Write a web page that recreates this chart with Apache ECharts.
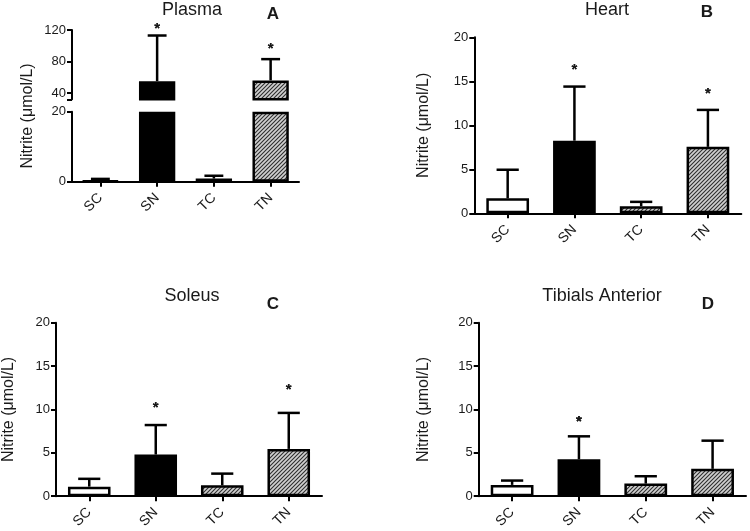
<!DOCTYPE html>
<html><head><meta charset="utf-8">
<script src="https://cdn.jsdelivr.net/npm/echarts@6/dist/echarts.min.js"></script>
<style>html,body{margin:0;padding:0;background:#fff}#c{width:750px;height:531px}</style>
</head><body><div id="c"></div>
<script>
// ---- data ----
const categories = ['SC', 'SN', 'TC', 'TN'];
const plasmaMean = [0.2, 55, 0.9, 56];
const plasmaErr  = [0.6, 58, 0.8, 27];
const plasmaStar = [null, 124, null, 99];
const heartMean  = [1.7, 8.25, 0.8, 7.55];
const heartErr   = [3.25, 6.15, 0.5, 4.2];
const heartStar  = [null, 16.5, null, 13.75];
const soleusMean = [1.1, 4.8, 1.25, 5.45];
const soleusErr  = [0.9, 3.4, 1.35, 4.15];
const soleusStar = [null, 10.45, null, 12.5];
const tibialMean = [1.3, 4.25, 1.45, 3.15];
const tibialErr  = [0.5, 2.65, 0.85, 3.25];
const tibialStar = [null, 8.75, null, null];
const plasmaTopTicks = [40, 80, 120];
const plasmaBottomTicks = [0, 20];
const muscleTicks = [0, 5, 10, 15, 20];
const yName = 'Nitrite (μmol/L)';

// ---- styles ----
const FONT = '"Liberation Sans", Arial, sans-serif';
const TXT = '#1a1a1a';
function hatch() {
  const c = document.createElement('canvas'); c.width = 4; c.height = 4;
  const g = c.getContext('2d');
  g.fillStyle = '#d0d0d0'; g.fillRect(0, 0, 4, 4);
  g.strokeStyle = '#2e2e2e'; g.lineWidth = 1.1;
  g.beginPath();
  g.moveTo(-1, 5); g.lineTo(5, -1);
  g.moveTo(-3, 3); g.lineTo(3, -3);
  g.moveTo(1, 7); g.lineTo(7, 1);
  g.stroke();
  return c;
}
const H = hatch();
const fills = ['#ffffff', '#000000', {image: H, repeat: 'repeat'}, {image: H, repeat: 'repeat'}];
const BARW = 0.64;

function barData(vals, f) {
  return vals.map((v, i) => ({value: f ? f(v) : v, itemStyle: {color: fills[i]}}));
}
function errRender(params, api) {
  const i = api.value(0), m = api.value(1), e = api.value(2);
  const p0 = api.coord([i, m]), p1 = api.coord([i, m + e]);
  const w = api.size([1, 0])[0] * BARW * 0.26;
  const st = {stroke: '#000', lineWidth: 2.5};
  return {type: 'group', children: [
    {type: 'line', shape: {x1: p0[0], y1: p0[1], x2: p1[0], y2: p1[1]}, style: st},
    {type: 'line', shape: {x1: p1[0] - w, y1: p1[1], x2: p1[0] + w, y2: p1[1]}, style: st}
  ]};
}
function starRender(params, api) {
  const p = api.coord([api.value(0), api.value(1)]);
  return {type: 'text', x: p[0], y: p[1] + 2, style: {text: '*', font: 'bold 15px ' + FONT, fill: TXT, align: 'center', verticalAlign: 'middle'}};
}
function errSeries(idx, mean, err, keep) {
  return {type: 'custom', xAxisIndex: idx, yAxisIndex: idx, z: 1, renderItem: errRender,
    encode: {x: 0, y: 1},
    data: mean.map((m, i) => keep(m, err[i]) ? [i, m, err[i]] : [i, '-', '-'])};
}
function starSeries(idx, star) {
  return {type: 'custom', xAxisIndex: idx, yAxisIndex: idx, z: 5, renderItem: starRender,
    encode: {x: 0, y: 1},
    data: star.map((s, i) => [i, s == null ? '-' : s])};
}
function barSeries(idx, vals, f) {
  return {type: 'bar', xAxisIndex: idx, yAxisIndex: idx, z: 3, barWidth: (BARW * 100) + '%',
    itemStyle: {borderColor: '#000', borderWidth: 2.5}, data: barData(vals, f), clip: true};
}
const axisLine = {show: true, lineStyle: {color: '#000', width: 2}};
const axisTick = {show: true, length: 5, lineStyle: {color: '#000', width: 2}};
const axisLabel = {color: TXT, fontSize: 13, fontFamily: FONT, margin: 6};
function xCat(idx, show) {
  return {type: 'category', gridIndex: idx, data: categories, show: show,
    axisLine: axisLine, axisTick: Object.assign({alignWithLabel: true}, axisTick),
    axisLabel: Object.assign({}, axisLabel, {rotate: 45, margin: 14, fontSize: 14})};
}
function yVal(idx, min, max, ticks, name, gap) {
  return {type: 'value', gridIndex: idx, min: min, max: max,
    splitLine: {show: false}, axisLine: axisLine,
    axisTick: Object.assign({customValues: ticks.tick || ticks}, axisTick),
    axisLabel: Object.assign({customValues: ticks.label || ticks}, axisLabel),
    name: name, nameLocation: 'middle', nameGap: gap,
    nameTextStyle: {color: TXT, fontSize: 16, fontFamily: FONT}};
}
const TOPMIN = 32;
const option = {
  animation: false,
  title: [
    {text: 'Plasma', left: 192, top: 1, textAlign: 'center'},
    {text: 'A', left: 273, top: 6, textAlign: 'center'},
    {text: 'Heart', left: 607, top: 1, textAlign: 'center'},
    {text: 'B', left: 707, top: 4, textAlign: 'center'},
    {text: 'Soleus', left: 192, top: 287, textAlign: 'center'},
    {text: 'C', left: 273, top: 296, textAlign: 'center'},
    {text: 'Tibials Anterior', left: 602, top: 287, textAlign: 'center'},
    {text: 'D', left: 708, top: 296, textAlign: 'center'}
  ].map((t, i) => Object.assign(t, {padding: 0, textStyle: i % 2 ?
      {fontSize: 17, fontWeight: 'bold', fontFamily: FONT, color: TXT} :
      {fontSize: 18, fontWeight: 'normal', fontFamily: FONT, color: TXT}})),
  grid: [
    {left: 72, right: 451, top: 30, height: 69.3},       // A top
    {left: 72, right: 451, top: 111.7, height: 70},      // A bottom
    {left: 474.3, right: 8.7, top: 37.3, height: 176},   // B
    {left: 56, right: 428, top: 322.7, height: 176},     // C
    {left: 478.7, right: 4, top: 322.7, height: 176}     // D
  ],
  xAxis: [xCat(0, false), xCat(1, true), xCat(2, true), xCat(3, true), xCat(4, true)],
  yAxis: [
    yVal(0, TOPMIN, 120, {tick: [TOPMIN].concat(plasmaTopTicks), label: plasmaTopTicks}, '', 0),
    yVal(1, 0, 20, plasmaBottomTicks, '', 0),
    yVal(2, 0, 20, muscleTicks, yName, 43),
    yVal(3, 0, 20, muscleTicks, yName, 39),
    yVal(4, 0, 20, muscleTicks, yName, 47)
  ],
  graphic: [{type: 'text', x: 28, y: 116, rotation: Math.PI / 2,
    style: {text: yName, font: '16px ' + FONT, fill: TXT, align: 'center', verticalAlign: 'middle'}}],
  series: [
    barSeries(0, plasmaMean.map(v => v > TOPMIN ? v : '-')),
    errSeries(0, plasmaMean, plasmaErr, (m, e) => m > TOPMIN),
    starSeries(0, plasmaStar),
    barSeries(1, plasmaMean, v => Math.min(v, 20)),
    errSeries(1, plasmaMean, plasmaErr, (m, e) => m + e <= 20),
    barSeries(2, heartMean), errSeries(2, heartMean, heartErr, () => true), starSeries(2, heartStar),
    barSeries(3, soleusMean), errSeries(3, soleusMean, soleusErr, () => true), starSeries(3, soleusStar),
    barSeries(4, tibialMean), errSeries(4, tibialMean, tibialErr, () => true), starSeries(4, tibialStar)
  ]
};
const chart = echarts.init(document.getElementById('c'), null, {renderer: 'canvas'});
chart.setOption(option);
</script></body></html>
